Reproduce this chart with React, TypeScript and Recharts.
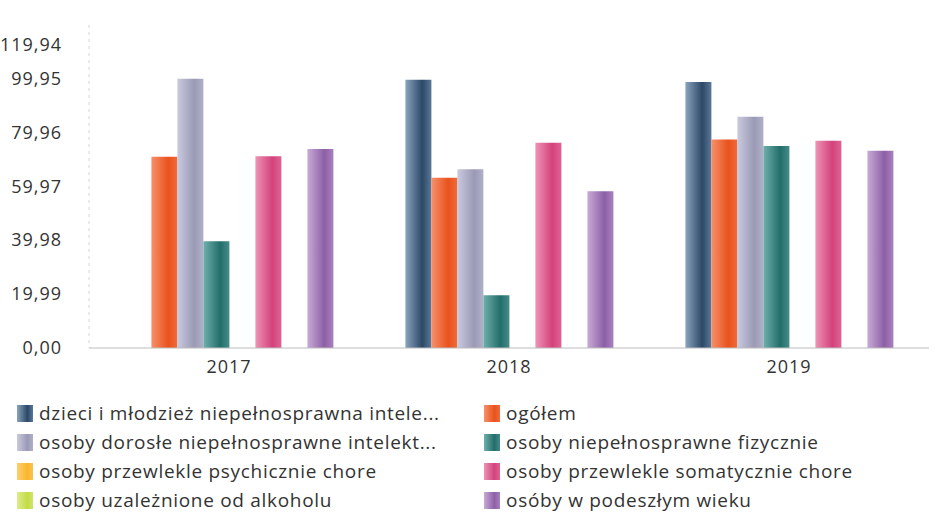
import React from "react";
import { Bar, BarChart, XAxis, YAxis } from "recharts";

const years = ["2017", "2018", "2019"];

const dzieci = [null, 99.6, 98.8];
const ogolem = [71.0, 63.2, 77.4];
const dorosle = [99.95, 66.4, 85.9];
const fizycznie = [39.6, 19.6, 75.0];
const psychicznie = [null, null, null];
const somatycznie = [71.2, 76.2, 77.0];
const alkohol = [null, null, null];
const wiek = [73.9, 58.2, 73.2];

const yTicks = [0, 19.99, 39.98, 59.97, 79.96, 99.95, 119.94];

const series = [
  { key: "dzieci", name: "dzieci i młodzież niepełnosprawna intele...", values: dzieci, colors: ["#8aa4bf", "#2b4866", "#5b7899"] },
  { key: "ogolem", name: "ogółem", values: ogolem, colors: ["#f7906a", "#e9521d", "#f06b3b"] },
  { key: "dorosle", name: "osoby dorosłe niepełnosprawne intelekt...", values: dorosle, colors: ["#c9c9de", "#9a9ab6", "#b0b0c9"] },
  { key: "fizycznie", name: "osoby niepełnosprawne fizycznie", values: fizycznie, colors: ["#6fb0ac", "#236d6a", "#448c89"] },
  { key: "psychicznie", name: "osoby przewlekle psychicznie chore", values: psychicznie, colors: ["#fdd070", "#f9b52e", "#fbc44f"] },
  { key: "somatycznie", name: "osoby przewlekle somatycznie chore", values: somatycznie, colors: ["#ee93b5", "#d3427b", "#df6396"] },
  { key: "alkohol", name: "osoby uzależnione od alkoholu", values: alkohol, colors: ["#dbec8c", "#c3dc45", "#cfe566"] },
  { key: "wiek", name: "osóby w podeszłym wieku", values: wiek, colors: ["#c8aad7", "#8d60a6", "#a880bf"] },
];

const data = years.map((year, i) => {
  const row: Record<string, string | number | null> = { year };
  series.forEach((s) => {
    row[s.key] = s.values[i];
  });
  return row;
});

const font = "'Open Sans', 'Noto Sans', sans-serif";

const fmt = (v: number) => v.toFixed(2).replace(".", ",");

// top label sits lower than its grid position in the original
const YTick = (props: any) => {
  const { x, y, payload } = props;
  const ty = Math.max(y, 45);
  return (
    <text x={x} y={ty} dy={6} textAnchor="end" fill="#333" fontSize={18} letterSpacing={1} fontFamily={font}>
      {fmt(payload.value)}
    </text>
  );
};

function LegendBlock() {
  return (
    <div
      style={{
        position: "absolute",
        top: 403,
        left: 17,
        display: "grid",
        gridTemplateColumns: "467px 440px",
        rowGap: 9,
        fontFamily: font,
        fontSize: 19,
        letterSpacing: 0.7,
        color: "#333",
      }}
    >
      {series.map((s) => (
        <div key={s.key} style={{ display: "flex", alignItems: "center", height: 20, whiteSpace: "nowrap" }}>
          <span
            style={{
              display: "inline-block",
              width: 16,
              height: 17,
              marginRight: 6,
              background: `linear-gradient(to right, ${s.colors[0]}, ${s.colors[1]} 65%, ${s.colors[2]})`,
            }}
          />
          {s.name}
        </div>
      ))}
    </div>
  );
}

export default function App() {
  return (
    <div style={{ position: "absolute", left: 0, top: 0, width: 944, height: 524, background: "#fff" }}>
      <BarChart
        width={944}
        height={400}
        data={data}
        margin={{ top: 25, right: 15, bottom: 22, left: 0 }}
        barCategoryGap="13%"
        barGap={0}
      >
        <defs>
          {series.map((s) => (
            <linearGradient key={s.key} id={`g-${s.key}`} x1="0" y1="0" x2="1" y2="0">
              <stop offset="0%" stopColor={s.colors[0]} />
              <stop offset="65%" stopColor={s.colors[1]} />
              <stop offset="100%" stopColor={s.colors[2]} />
            </linearGradient>
          ))}
        </defs>
        <XAxis
          dataKey="year"
          tickLine={false}
          tickSize={0}
          tickMargin={12}
          height={30}
          axisLine={{ stroke: "#bdbdbd" }}
          tick={{ fill: "#333", fontSize: 18, letterSpacing: 1, fontFamily: font }}
        />
        <YAxis
          domain={[0, 119.94]}
          ticks={yTicks}
          width={89}
          tickLine={false}
          tickSize={0}
          tickMargin={27}
          interval={0}
          axisLine={{ stroke: "#d6d6d6", strokeDasharray: "3 4" }}
          tick={<YTick />}
        />
        {series.map((s) => (
          <Bar
            key={s.key}
            dataKey={s.key}
            name={s.name}
            fill={`url(#g-${s.key})`}
            isAnimationActive={false}
          />
        ))}
      </BarChart>
      <LegendBlock />
    </div>
  );
}
